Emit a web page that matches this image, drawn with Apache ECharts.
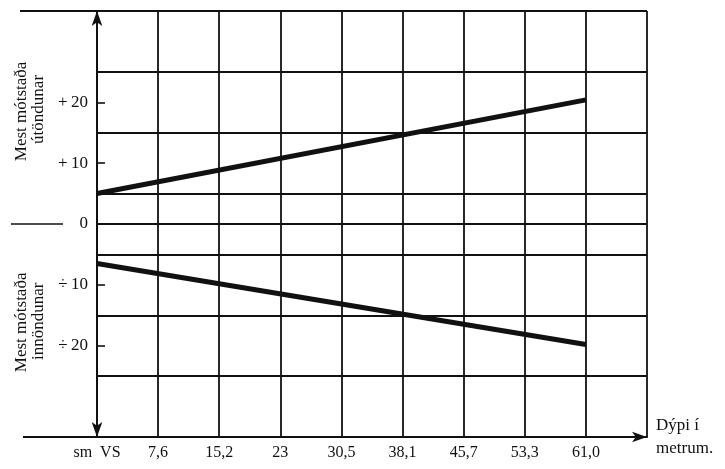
<!DOCTYPE html>
<html>
<head>
<meta charset="utf-8">
<script src="https://cdn.jsdelivr.net/npm/echarts@6/dist/echarts.min.js"></script>
<style>
html,body{margin:0;padding:0;background:#fff;}
#chart{width:725px;height:469px;}
</style>
</head>
<body>
<div id="chart"></div>
<script>
// Depth categories (x axis tick labels); last grid column has no label
var depthLabels = ['sm  VS', '7,6', '15,2', '23', '30,5', '38,1', '45,7', '53,3', '61,0', ''];
// Line endpoints (index along depth axis)
var lineX = [0, 8];
// Max resistance on exhalation (útöndun)
var exhaleValues = [5, 20.4];
// Max resistance on inhalation (innöndun), negative
var inhaleValues = [-6.5, -19.8];
// Y tick labels shown
var yLabelValues = [-20, -10, 0, 10, 20];
var yTickValues = [-20, -10, 10, 20];
// Horizontal grid lines (between labelled values)
var yGridValues = [-25, -15, -5, 0, 5, 15, 25, 35];

var INK = '#111111';
var FONT = '"Liberation Serif", "DejaVu Serif", serif';

function pairs(xs, ys) { return xs.map(function (x, i) { return [x, ys[i]]; }); }

var chart = echarts.init(document.getElementById('chart'), null, {renderer: 'canvas'});
var option = {
  animation: false,
  backgroundColor: '#fff',
  grid: {left: 97, right: 78, top: 11, bottom: 32, containLabel: false},
  xAxis: {
    type: 'value', min: 0, max: 9, interval: 1,
    axisLine: {show: true, onZero: false, symbol: ['none', 'arrow'], symbolSize: [8, 15],
      lineStyle: {color: INK, width: 2}},
    axisTick: {show: false},
    axisLabel: {show: true, margin: 8, color: INK, fontFamily: FONT, fontSize: 16,
      formatter: function (v) { return depthLabels[Math.round(v)] || ''; }},
    splitLine: {show: true, lineStyle: {color: INK, width: 1.8}},
    name: 'Dýpi í\nmetrum.', nameLocation: 'end', nameGap: 9,
    nameTextStyle: {color: INK, fontFamily: FONT, fontSize: 17, lineHeight: 23, align: 'left', verticalAlign: 'middle'}
  },
  yAxis: {
    type: 'value', min: -35, max: 35, interval: 5,
    axisLine: {show: true, symbol: ['arrow', 'arrow'], symbolSize: [8, 15],
      lineStyle: {color: INK, width: 2}},
    axisTick: {show: true, inside: true, length: 8, customValues: yTickValues,
      lineStyle: {color: INK, width: 1.6}},
    axisLabel: {show: true, margin: 9, color: INK, fontFamily: FONT, fontSize: 17,
      customValues: yLabelValues,
      formatter: function (v) { return v > 0 ? '+\u2009' + v : (v < 0 ? '÷\u2009' + (-v) : '0'); }},
    splitLine: {show: false}
  },
  series: [
    {type: 'line', data: pairs(lineX, exhaleValues), showSymbol: false, symbol: 'none',
      lineStyle: {color: INK, width: 5}, z: 3,
      markLine: {silent: true, symbol: ['none', 'none'], label: {show: false},
        lineStyle: {color: INK, width: 1.8, type: 'solid'},
        data: yGridValues.map(function (v) { return {yAxis: v}; })}},
    {type: 'line', data: pairs(lineX, inhaleValues), showSymbol: false, symbol: 'none',
      lineStyle: {color: INK, width: 5}, z: 3}
  ]
};
chart.setOption(option);

var pTop = chart.convertToPixel({gridIndex: 0}, [0, 35]);
var pBot = chart.convertToPixel({gridIndex: 0}, [0, -35]);
var pZero = chart.convertToPixel({gridIndex: 0}, [0, 0]);
var pUp = chart.convertToPixel({gridIndex: 0}, [0, 18.5]);
var pDn = chart.convertToPixel({gridIndex: 0}, [0, -16]);

chart.setOption({
  graphic: [
    {type: 'line', shape: {x1: 20, y1: pTop[1], x2: pTop[0], y2: pTop[1]}, style: {stroke: INK, lineWidth: 1.8}},
    {type: 'line', shape: {x1: 23, y1: pBot[1], x2: pBot[0], y2: pBot[1]}, style: {stroke: INK, lineWidth: 2}},
    {type: 'line', shape: {x1: 11, y1: pZero[1], x2: 63, y2: pZero[1]}, style: {stroke: INK, lineWidth: 1.6}},
    {type: 'text', x: 22, y: pUp[1], rotation: Math.PI / 2,
      style: {text: 'Mest mótstaða', fill: INK, font: '17px ' + FONT, textAlign: 'center', textVerticalAlign: 'middle'}},
    {type: 'text', x: 39, y: pUp[1] - 2, rotation: Math.PI / 2,
      style: {text: 'útöndunar', fill: INK, font: '17px ' + FONT, textAlign: 'center', textVerticalAlign: 'middle'}},
    {type: 'text', x: 22, y: pDn[1] + 1, rotation: Math.PI / 2,
      style: {text: 'Mest mótstaða', fill: INK, font: '17px ' + FONT, textAlign: 'center', textVerticalAlign: 'middle'}},
    {type: 'text', x: 39, y: pDn[1], rotation: Math.PI / 2,
      style: {text: 'innöndunar', fill: INK, font: '17px ' + FONT, textAlign: 'center', textVerticalAlign: 'middle'}}
  ]
});
</script>
</body>
</html>
